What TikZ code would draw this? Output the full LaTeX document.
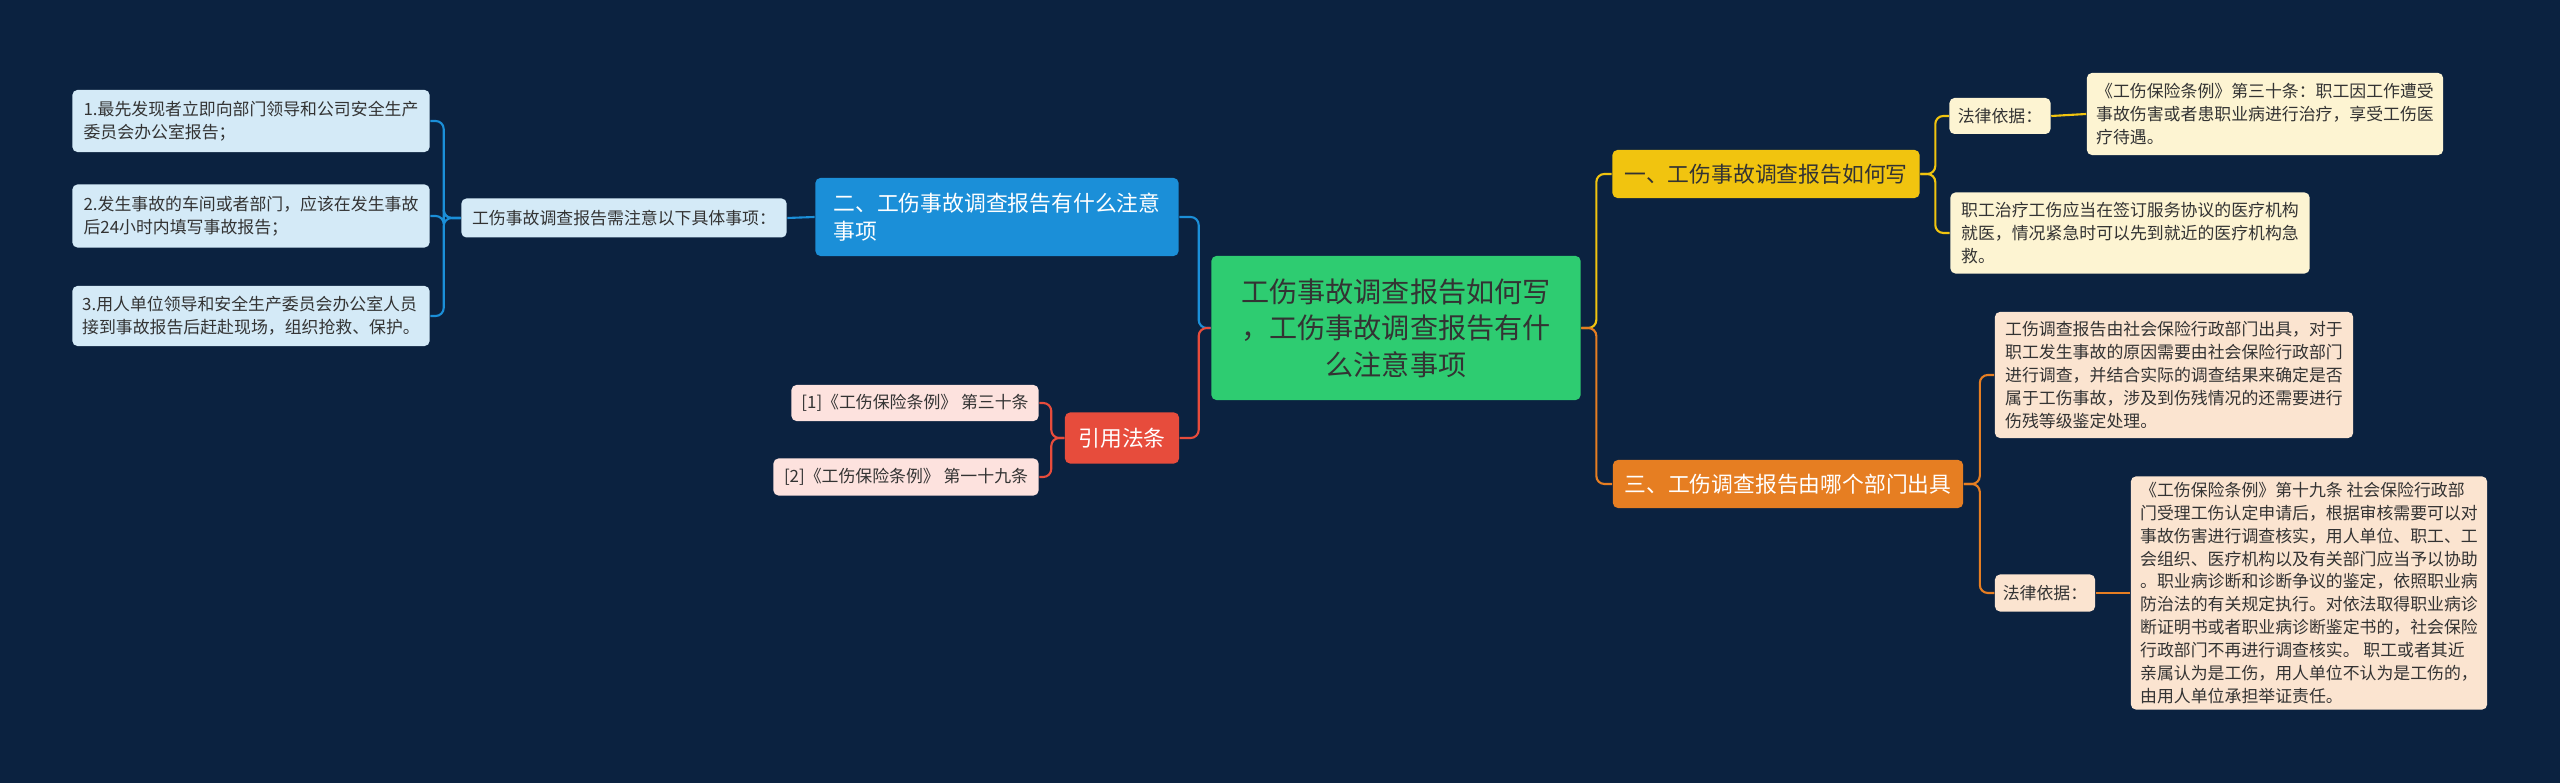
\documentclass[tikz,border=0pt]{standalone}
\usepackage{fontspec}
\newfontfamily\cjk{Noto Sans CJK SC}
\definecolor{bg}{HTML}{0B2240}
\definecolor{cgreen}{HTML}{2ECC71}
\definecolor{cyel}{HTML}{F1C40F}
\definecolor{cyell}{HTML}{FDF4D2}
\definecolor{corg}{HTML}{E67E22}
\definecolor{corgl}{HTML}{FBE4D0}
\definecolor{cblue}{HTML}{1B8FD8}
\definecolor{cbluel}{HTML}{D4EAF7}
\definecolor{cred}{HTML}{E74C3C}
\definecolor{credl}{HTML}{FDE2DE}
\definecolor{ctxt}{HTML}{333333}
\tikzset{
 box/.style={rounded corners=0.05cm, inner sep=0pt, align=left, text=ctxt,
   font=\cjk\fontsize{4.8}{6.5}\selectfont},
 bigbox/.style={box, font=\cjk\fontsize{6.2}{8}\selectfont},
 link/.style={line width=0.6pt, rounded corners=0.08cm},
}
\begin{document}
\begin{tikzpicture}[x=0.01cm,y=-0.01cm]
\fill[bg] (0,0) rectangle (2560,783);
\useasboundingbox (0,0) rectangle (2560,783);
% center
\node[box, fill=cgreen, align=center, minimum width=3.69cm, minimum height=1.44cm,
  font=\cjk\fontsize{8}{10.4}\selectfont] (ctr) at (1396,328)
  {工伤事故调查报告如何写\\，工伤事故调查报告有什\\么注意事项};
% right branch 1
\node[bigbox, fill=cyel, minimum width=3.07cm, minimum height=0.48cm] (b1) at (1766,174) {一、工伤事故调查报告如何写};
\node[box, fill=cyell, minimum width=1.01cm, minimum height=0.36cm] (b1a) at (2000,116) {法律依据：};
\node[box, fill=cyell, minimum width=3.56cm, minimum height=0.82cm] (b1b) at (2265,114)
  {《工伤保险条例》第三十条：职工因工作遭受\\事故伤害或者患职业病进行治疗，享受工伤医\\疗待遇。};
\node[box, fill=cyell, minimum width=3.59cm, minimum height=0.81cm] (b1c) at (2130,233)
  {职工治疗工伤应当在签订服务协议的医疗机构\\就医，情况紧急时可以先到就近的医疗机构急\\救。};
% right branch 3
\node[bigbox, fill=corg, text=white, minimum width=3.50cm, minimum height=0.48cm] (b3) at (1788,484) {三、工伤调查报告由哪个部门出具};
\node[box, fill=corgl, minimum width=3.58cm, minimum height=1.26cm] (b3a) at (2174,375)
  {工伤调查报告由社会保险行政部门出具，对于\\职工发生事故的原因需要由社会保险行政部门\\进行调查，并结合实际的调查结果来确定是否\\属于工伤事故，涉及到伤残情况的还需要进行\\伤残等级鉴定处理。};
\node[box, fill=corgl, minimum width=1.00cm, minimum height=0.37cm] (b3b) at (2045,593) {法律依据：};
\node[box, fill=corgl, minimum width=3.56cm, minimum height=2.33cm] (b3c) at (2309,593)
  {《工伤保险条例》第十九条 社会保险行政部\\门受理工伤认定申请后，根据审核需要可以对\\事故伤害进行调查核实，用人单位、职工、工\\会组织、医疗机构以及有关部门应当予以协助\\。职业病诊断和诊断争议的鉴定，依照职业病\\防治法的有关规定执行。对依法取得职业病诊\\断证明书或者职业病诊断鉴定书的，社会保险\\行政部门不再进行调查核实。 职工或者其近\\亲属认为是工伤，用人单位不认为是工伤的，\\由用人单位承担举证责任。};
% left branch 2
\node[bigbox, fill=cblue, text=white, minimum width=3.63cm, minimum height=0.78cm] (b2) at (997,217)
  {二、工伤事故调查报告有什么注意\\事项};
\node[box, fill=cbluel, minimum width=3.25cm, minimum height=0.39cm] (b2a) at (624,218) {工伤事故调查报告需注意以下具体事项：};
\node[box, fill=cbluel, minimum width=3.57cm, minimum height=0.62cm] (l1) at (251,121)
  {1.最先发现者立即向部门领导和公司安全生产\\委员会办公室报告；};
\node[box, fill=cbluel, minimum width=3.57cm, minimum height=0.63cm] (l2) at (251,216)
  {2.发生事故的车间或者部门，应该在发生事故\\后24小时内填写事故报告；};
\node[box, fill=cbluel, minimum width=3.57cm, minimum height=0.60cm] (l3) at (251,316)
  {3.用人单位领导和安全生产委员会办公室人员\\接到事故报告后赶赴现场，组织抢救、保护。};
% left red
\node[bigbox, fill=cred, text=white, minimum width=1.14cm, minimum height=0.51cm] (r) at (1122,438) {引用法条};
\node[box, fill=credl, minimum width=2.47cm, minimum height=0.36cm] (r1) at (915,403) {[1]《工伤保险条例》 第三十条};
\node[box, fill=credl, minimum width=2.65cm, minimum height=0.37cm] (r2) at (906,477) {[2]《工伤保险条例》 第一十九条};
% links
\draw[link, cyel] (ctr.east) -- ++(15,0) |- (b1.west);
\draw[link, corg] (ctr.east) -- ++(15,0) |- (b3.west);
\draw[link, cblue] (ctr.west) -- ++(-12,0) |- (b2.east);
\draw[link, cred] (ctr.west) -- ++(-12,0) |- (r.east);
\draw[link, cyel] (b1.east) -- ++(15,0) |- (b1a.west);
\draw[link, cyel] (b1.east) -- ++(15,0) |- (b1c.west);
\draw[link, cyel] (b1a.east) -- (b1b.west);
\draw[link, corg] (b3.east) -- ++(16,0) |- (b3a.west);
\draw[link, corg] (b3.east) -- ++(16,0) |- (b3b.west);
\draw[link, corg] (b3b.east) -- (b3c.west);
\draw[link, cblue] (b2.west) -- (b2a.east);
\draw[link, cblue] (b2a.west) -- ++(-17,0) |- (l1.east);
\draw[link, cblue] (b2a.west) -- ++(-17,0) |- (l2.east);
\draw[link, cblue] (b2a.west) -- ++(-17,0) |- (l3.east);
\draw[link, cred] (r.west) -- ++(-13,0) |- (r1.east);
\draw[link, cred] (r.west) -- ++(-13,0) |- (r2.east);
\end{tikzpicture}
\end{document}
